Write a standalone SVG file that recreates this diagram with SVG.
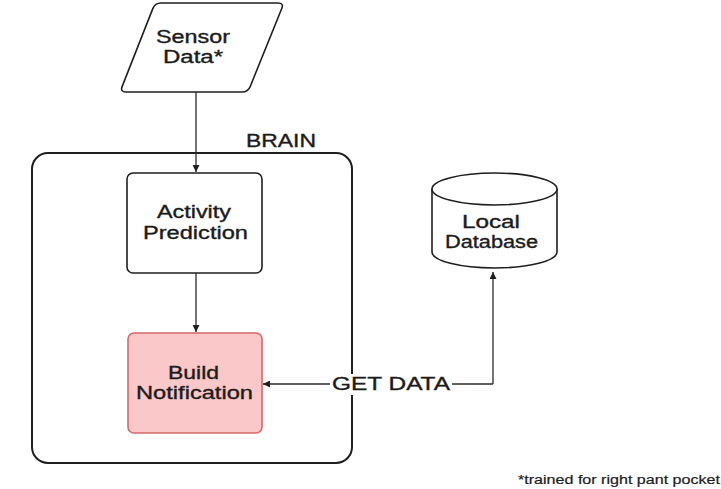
<svg xmlns="http://www.w3.org/2000/svg" width="721" height="489" viewBox="0 0 721 489">
<defs>
<style>
.t{font-family:"Liberation Sans",Arial,sans-serif;font-size:17.5px;fill:#1c1c1c;stroke:#1c1c1c;stroke-width:0.35;text-anchor:start}
.s{fill:#fff;stroke:#1f1f1f;stroke-width:1.6}
.c{fill:none;stroke:#2a2a2a;stroke-width:1.3}
</style>
<marker id="ah" viewBox="0 0 10 10" refX="10" refY="5" markerWidth="7" markerHeight="7" markerUnits="userSpaceOnUse" orient="auto">
<path d="M0,0 L10,5 L0,10 Z" fill="#1f1f1f"/>
</marker>
</defs>
<rect width="721" height="489" fill="#fff"/>
<g id="brain">
<rect x="32" y="153" width="320" height="310" rx="16" fill="none" stroke="#1f1f1f" stroke-width="2"/>
<text class="t" x="246" y="147" textLength="70" lengthAdjust="spacingAndGlyphs">BRAIN</text>
</g>
<g id="sensor-data">
<path class="s" d="M161,3 L278,3 Q284,3 281.75,8.56 L250.25,86.44 Q248,92 242,92 L126,92 Q120,92 122.2,86.4 L152.8,8.59 Q155,3 161,3 Z"/>
<text class="t" x="156" y="43" textLength="74" lengthAdjust="spacingAndGlyphs">Sensor</text>
<text class="t" x="163" y="63" textLength="60" lengthAdjust="spacingAndGlyphs">Data*</text>
</g>
<g id="activity-prediction">
<rect class="s" x="127" y="173" width="135" height="100" rx="6"/>
<text class="t" x="157" y="218" textLength="74" lengthAdjust="spacingAndGlyphs">Activity</text>
<text class="t" x="143" y="239" textLength="105" lengthAdjust="spacingAndGlyphs">Prediction</text>
</g>
<g id="build-notification">
<rect x="128" y="333" width="134" height="100" rx="6" fill="#fac8c8" stroke="#d66868" stroke-width="1.6"/>
<text class="t" x="168" y="379" textLength="51" lengthAdjust="spacingAndGlyphs">Build</text>
<text class="t" x="136" y="399" textLength="117" lengthAdjust="spacingAndGlyphs">Notification</text>
</g>
<g id="local-database">
<path class="s" d="M432,189 L432,252 A62.5,16 0 0 0 557,252 L557,189"/>
<ellipse class="s" cx="494.5" cy="189" rx="62.5" ry="16"/>
<text class="t" x="462" y="228" textLength="58" lengthAdjust="spacingAndGlyphs">Local</text>
<text class="t" x="445" y="248" textLength="93" lengthAdjust="spacingAndGlyphs">Database</text>
</g>
<g id="connectors">
<line class="c" x1="196" y1="92" x2="196" y2="172" marker-end="url(#ah)"/>
<line class="c" x1="196" y1="273" x2="196" y2="332" marker-end="url(#ah)"/>
<path class="c" d="M493,384 L263,384" marker-end="url(#ah)"/>
<path class="c" d="M493,384 L493,272" marker-end="url(#ah)"/>
<rect x="330" y="374" width="122" height="21" fill="#fff"/>
<text class="t" x="332" y="390" textLength="118" lengthAdjust="spacingAndGlyphs">GET DATA</text>
</g>
<text class="t" x="518" y="484" style="font-size:12.5px;stroke-width:0.2" textLength="202" lengthAdjust="spacingAndGlyphs">*trained for right pant pocket</text>
</svg>
